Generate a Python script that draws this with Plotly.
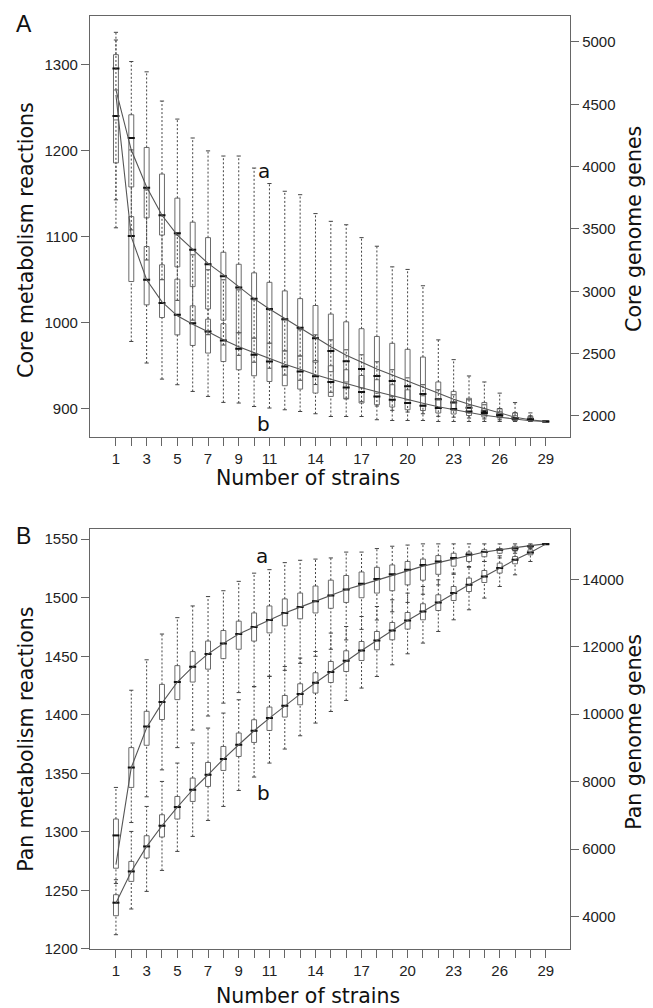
import plotly.graph_objects as go
from plotly.subplots import make_subplots

strains = list(range(1, 30))
labeled = [1, 3, 5, 7, 9, 11, 14, 17, 20, 23, 26, 29]
tick_text = [str(s) if s in labeled else "" for s in strains]

# ---- Panel A : core metabolism reactions (a, left axis) ----
A_react_lo = [1143, 1108, 1073, 1050, 1026, 1003, 986, 974, 962, 954, 947, 939, 933, 928, 919, 912, 908, 903, 898, 896, 894, 891, 890, 889, 888, 887, 886, 885, 885]
A_react_q1 = [1236, 1158, 1122, 1102, 1065, 1042, 1016, 1003, 988, 982, 976, 967, 961, 954, 943, 931, 924, 918, 914, 910, 904, 901, 898, 895, 893, 890, 887, 886, 885]
A_react_med = [1296, 1215, 1157, 1125, 1104, 1085, 1068, 1054, 1041, 1028, 1016, 1004, 994, 982, 967, 955, 946, 938, 932, 926, 917, 911, 907, 901, 897, 893, 889, 888, 885]
A_react_q3 = [1312, 1242, 1204, 1173, 1145, 1117, 1099, 1082, 1068, 1058, 1047, 1037, 1028, 1020, 1010, 1001, 993, 984, 976, 969, 960, 931, 920, 912, 907, 900, 895, 891, 885]
A_react_hi = [1338, 1304, 1292, 1258, 1237, 1215, 1200, 1194, 1194, 1180, 1162, 1153, 1149, 1127, 1118, 1114, 1099, 1089, 1065, 1062, 1043, 980, 957, 938, 931, 918, 907, 895, 885]
A_react_fit = [1271, 1201, 1158, 1125, 1102, 1085, 1069, 1056, 1042, 1028, 1016, 1005, 994, 982, 972, 962, 954, 946, 939, 932, 925, 918, 911, 905, 900, 895, 890, 887, 885]

# ---- Panel A : core genome genes (b, right axis) ----
A_gene_lo = [3509, 2597, 2424, 2295, 2250, 2196, 2156, 2108, 2103, 2075, 2063, 2049, 2035, 2017, 1995, 1995, 1995, 1969, 1963, 1963, 1963, 1955, 1955, 1955, 1955, 1955, 1955, 1955, 1955]
A_gene_q1 = [4030, 3078, 2891, 2789, 2650, 2565, 2504, 2436, 2370, 2322, 2276, 2242, 2215, 2183, 2156, 2135, 2103, 2089, 2071, 2049, 2043, 2023, 2015, 2003, 1991, 1983, 1963, 1961, 1955]
A_gene_med = [4407, 3444, 3092, 2905, 2811, 2744, 2677, 2605, 2538, 2490, 2436, 2396, 2356, 2318, 2271, 2228, 2191, 2156, 2129, 2103, 2081, 2063, 2055, 2035, 2023, 2003, 1977, 1969, 1955]
A_gene_q3 = [4615, 3599, 3359, 3212, 3097, 2883, 2776, 2740, 2669, 2624, 2584, 2522, 2482, 2444, 2402, 2370, 2324, 2290, 2250, 2209, 2161, 2129, 2113, 2081, 2057, 2033, 2001, 1985, 1955]
A_gene_hi = [5016, 4134, 3813, 3613, 3452, 3292, 3172, 3092, 3011, 2931, 2851, 2771, 2691, 2650, 2610, 2530, 2490, 2434, 2370, 2305, 2250, 2209, 2169, 2129, 2089, 2057, 2025, 2001, 1955]
A_gene_fit = [4575, 3436, 3092, 2915, 2803, 2735, 2675, 2610, 2554, 2506, 2458, 2414, 2374, 2330, 2294, 2258, 2225, 2193, 2161, 2129, 2101, 2073, 2049, 2025, 2005, 1989, 1973, 1961, 1955]

# ---- Panel B : pan metabolism reactions (a, left axis) ----
B_react_lo = [1256, 1308, 1330, 1353, 1372, 1387, 1399, 1410, 1419, 1424, 1433, 1438, 1444, 1450, 1456, 1464, 1473, 1481, 1488, 1496, 1503, 1511, 1520, 1526, 1531, 1534, 1538, 1542, 1546]
B_react_q1 = [1269, 1338, 1374, 1396, 1413, 1428, 1439, 1448, 1456, 1463, 1470, 1476, 1482, 1487, 1491, 1496, 1500, 1504, 1506, 1511, 1515, 1520, 1527, 1531, 1535, 1538, 1540, 1543, 1546]
B_react_med = [1297, 1355, 1390, 1411, 1428, 1441, 1452, 1461, 1469, 1475, 1481, 1487, 1492, 1497, 1502, 1507, 1512, 1516, 1520, 1524, 1528, 1531, 1534, 1537, 1539, 1541, 1542, 1544, 1546]
B_react_q3 = [1311, 1372, 1403, 1426, 1442, 1454, 1463, 1472, 1480, 1487, 1493, 1499, 1504, 1510, 1515, 1519, 1522, 1526, 1528, 1531, 1533, 1536, 1538, 1539, 1541, 1542, 1544, 1545, 1546]
B_react_hi = [1338, 1421, 1447, 1469, 1483, 1493, 1501, 1506, 1514, 1521, 1524, 1530, 1532, 1533, 1534, 1539, 1539, 1542, 1544, 1545, 1546, 1546, 1546, 1546, 1546, 1546, 1546, 1546, 1546]
B_react_fit = [1272, 1355, 1389, 1410, 1428, 1441, 1452, 1461, 1469, 1475, 1481, 1487, 1492, 1497, 1502, 1507, 1511, 1515, 1519, 1523, 1527, 1530, 1533, 1536, 1539, 1541, 1543, 1544.5, 1546]

# ---- Panel B : pan genome genes (b, right axis) ----
B_gene_lo = [3457, 4220, 4742, 5365, 5929, 6374, 6848, 7264, 7738, 8136, 8551, 8967, 9361, 9738, 10082, 10409, 10777, 11121, 11468, 11794, 12112, 12456, 12803, 13100, 13447, 13791, 14138, 14533, 15049]
B_gene_q1 = [4021, 5039, 5733, 6356, 6890, 7412, 7857, 8332, 8747, 9163, 9519, 9916, 10281, 10628, 10943, 11269, 11596, 11913, 12210, 12527, 12803, 13079, 13376, 13643, 13910, 14189, 14465, 14732, 15049]
B_gene_med = [4407, 5335, 6077, 6691, 7246, 7759, 8204, 8670, 9094, 9510, 9887, 10251, 10599, 10934, 11251, 11587, 11892, 12189, 12486, 12782, 13049, 13316, 13595, 13842, 14088, 14337, 14583, 14800, 15049]
B_gene_q3 = [4644, 5632, 6394, 7017, 7560, 8106, 8569, 9044, 9442, 9836, 10213, 10557, 10904, 11231, 11566, 11883, 12159, 12456, 12723, 13020, 13278, 13545, 13791, 14040, 14266, 14485, 14681, 14880, 15049]
B_gene_hi = [5089, 6522, 7264, 8006, 8551, 9145, 9590, 10035, 10430, 10824, 11121, 11418, 11667, 11863, 12409, 12604, 12901, 13198, 13397, 13595, 13791, 13990, 14189, 14385, 14533, 14702, 14859, 14978, 15049]
B_gene_fit = [4398, 5335, 6077, 6691, 7246, 7759, 8204, 8670, 9094, 9510, 9887, 10251, 10599, 10934, 11251, 11587, 11892, 12189, 12486, 12782, 13049, 13316, 13595, 13842, 14088, 14337, 14583, 14800, 15049]

W, H = 653, 1008
ML, MR, MT, MB = 90, 83, 16, 58.7
PW, PH = W - ML - MR, H - MT - MB


def px(x):
    return (x - ML) / PW


def py(y):
    return 1 - (y - MT) / PH


def clamp(v):
    return min(1.0, max(0.0, v))


fig = make_subplots(rows=2, cols=1, specs=[[{"secondary_y": True}], [{"secondary_y": True}]])

BOX_LINE = "#6a6a6a"
WHISK = "#444444"


def add_series(row, secondary, lo, q1, med, q3, hi, fit):
    wx, wy = [], []
    for s, a, b, c, d in zip(strains, lo, q1, q3, hi):
        wx += [s, s, None, s, s, None]
        wy += [a, b, None, c, d, None]
    fig.add_trace(go.Scatter(x=wx, y=wy, mode="lines",
                             line=dict(color=WHISK, width=1, dash="2px,2px"),
                             showlegend=False, hoverinfo="skip"),
                  row=row, col=1, secondary_y=secondary)
    fig.add_trace(go.Scatter(x=strains + strains, y=lo + hi, mode="markers",
                             marker=dict(symbol="line-ew", size=3,
                                         line=dict(color=WHISK, width=1)),
                             showlegend=False, hoverinfo="skip"),
                  row=row, col=1, secondary_y=secondary)
    fig.add_trace(go.Box(x=strains, q1=q1, median=med, q3=q3,
                         lowerfence=q1, upperfence=q3, width=0.32,
                         whiskerwidth=0, boxpoints=False,
                         line=dict(color=BOX_LINE, width=1),
                         fillcolor="rgba(255,255,255,0)",
                         showlegend=False, hoverinfo="skip"),
                  row=row, col=1, secondary_y=secondary)
    fig.add_trace(go.Scatter(x=strains, y=med, mode="markers",
                             marker=dict(symbol="line-ew", size=5,
                                         line=dict(color="#111111", width=2)),
                             showlegend=False, hoverinfo="skip"),
                  row=row, col=1, secondary_y=secondary)
    fig.add_trace(go.Scatter(x=strains, y=fit, mode="lines",
                             line=dict(color="#555555", width=1.1),
                             showlegend=False, hoverinfo="skip"),
                  row=row, col=1, secondary_y=secondary)


add_series(1, False, A_react_lo, A_react_q1, A_react_med, A_react_q3, A_react_hi, A_react_fit)
add_series(1, True, A_gene_lo, A_gene_q1, A_gene_med, A_gene_q3, A_gene_hi, A_gene_fit)
add_series(2, False, B_react_lo, B_react_q1, B_react_med, B_react_q3, B_react_hi, B_react_fit)
add_series(2, True, B_gene_lo, B_gene_q1, B_gene_med, B_gene_q3, B_gene_hi, B_gene_fit)

tickfont = dict(family="Liberation Sans, Arial, sans-serif", size=15, color="#222222")
axis_common = dict(showline=True, linecolor="#666666", linewidth=1.3, ticks="outside",
                   ticklen=8, tickcolor="#666666", tickwidth=1.2, showgrid=False,
                   zeroline=False, tickfont=tickfont)

domA = [clamp(py(437)), clamp(py(16))]
domB = [clamp(py(949.3)), clamp(py(529.3))]
xr = [-0.69, 30.58]

fig.update_layout(
    width=W, height=H, margin=dict(l=ML, r=MR, t=MT, b=MB),
    plot_bgcolor="white", paper_bgcolor="white", boxmode="overlay", showlegend=False,
    xaxis=dict(axis_common, range=xr, tickvals=strains, ticktext=tick_text, mirror=True, domain=[0, 1]),
    xaxis2=dict(axis_common, range=xr, tickvals=strains, ticktext=tick_text, mirror=True, domain=[0, 1]),
    yaxis=dict(axis_common, domain=domA, range=[867.1, 1357],
               tickvals=[900, 1000, 1100, 1200, 1300]),
    yaxis2=dict(axis_common, range=[1831.6, 5208.5], tickformat="d",
                tickvals=[2000, 2500, 3000, 3500, 4000, 4500, 5000]),
    yaxis3=dict(axis_common, domain=domB, range=[1200, 1558.6],
                tickvals=[1200, 1250, 1300, 1350, 1400, 1450, 1500, 1550]),
    yaxis4=dict(axis_common, range=[3032.7, 15494], tickformat="d",
                tickvals=[4000, 6000, 8000, 10000, 12000, 14000]),
)

title_font = dict(family="DejaVu Sans, sans-serif", size=20.5, color="#111111")
label_font = dict(family="DejaVu Sans, sans-serif", size=20, color="#111111")
letter_font = dict(family="Liberation Sans, Arial, sans-serif", size=23, color="#111111")

annots = [
    ("Core metabolism reactions", 26, 240, -90, title_font),
    ("Core genome genes", 634, 229, -90, title_font),
    ("Number of strains", 308, 478, 0, title_font),
    ("Pan metabolism reactions", 26, 740, -90, title_font),
    ("Pan genome genes", 634, 732, -90, title_font),
    ("Number of strains", 308, 996, 0, title_font),
    ("A", 24, 24, 0, letter_font),
    ("B", 23, 536, 0, letter_font),
    ("a", 264, 171, 0, label_font),
    ("b", 263, 424, 0, label_font),
    ("a", 262, 556, 0, label_font),
    ("b", 263, 793, 0, label_font),
]
for text, x, y, ang, f in annots:
    fig.add_annotation(text=text, x=px(x), y=py(y), xref="paper", yref="paper",
                       xanchor="center", yanchor="middle", textangle=ang,
                       showarrow=False, font=f)

fig.write_html("out.html", config={"displayModeBar": False},
               post_script="document.body.style.margin='0';document.body.style.overflow='hidden';")
